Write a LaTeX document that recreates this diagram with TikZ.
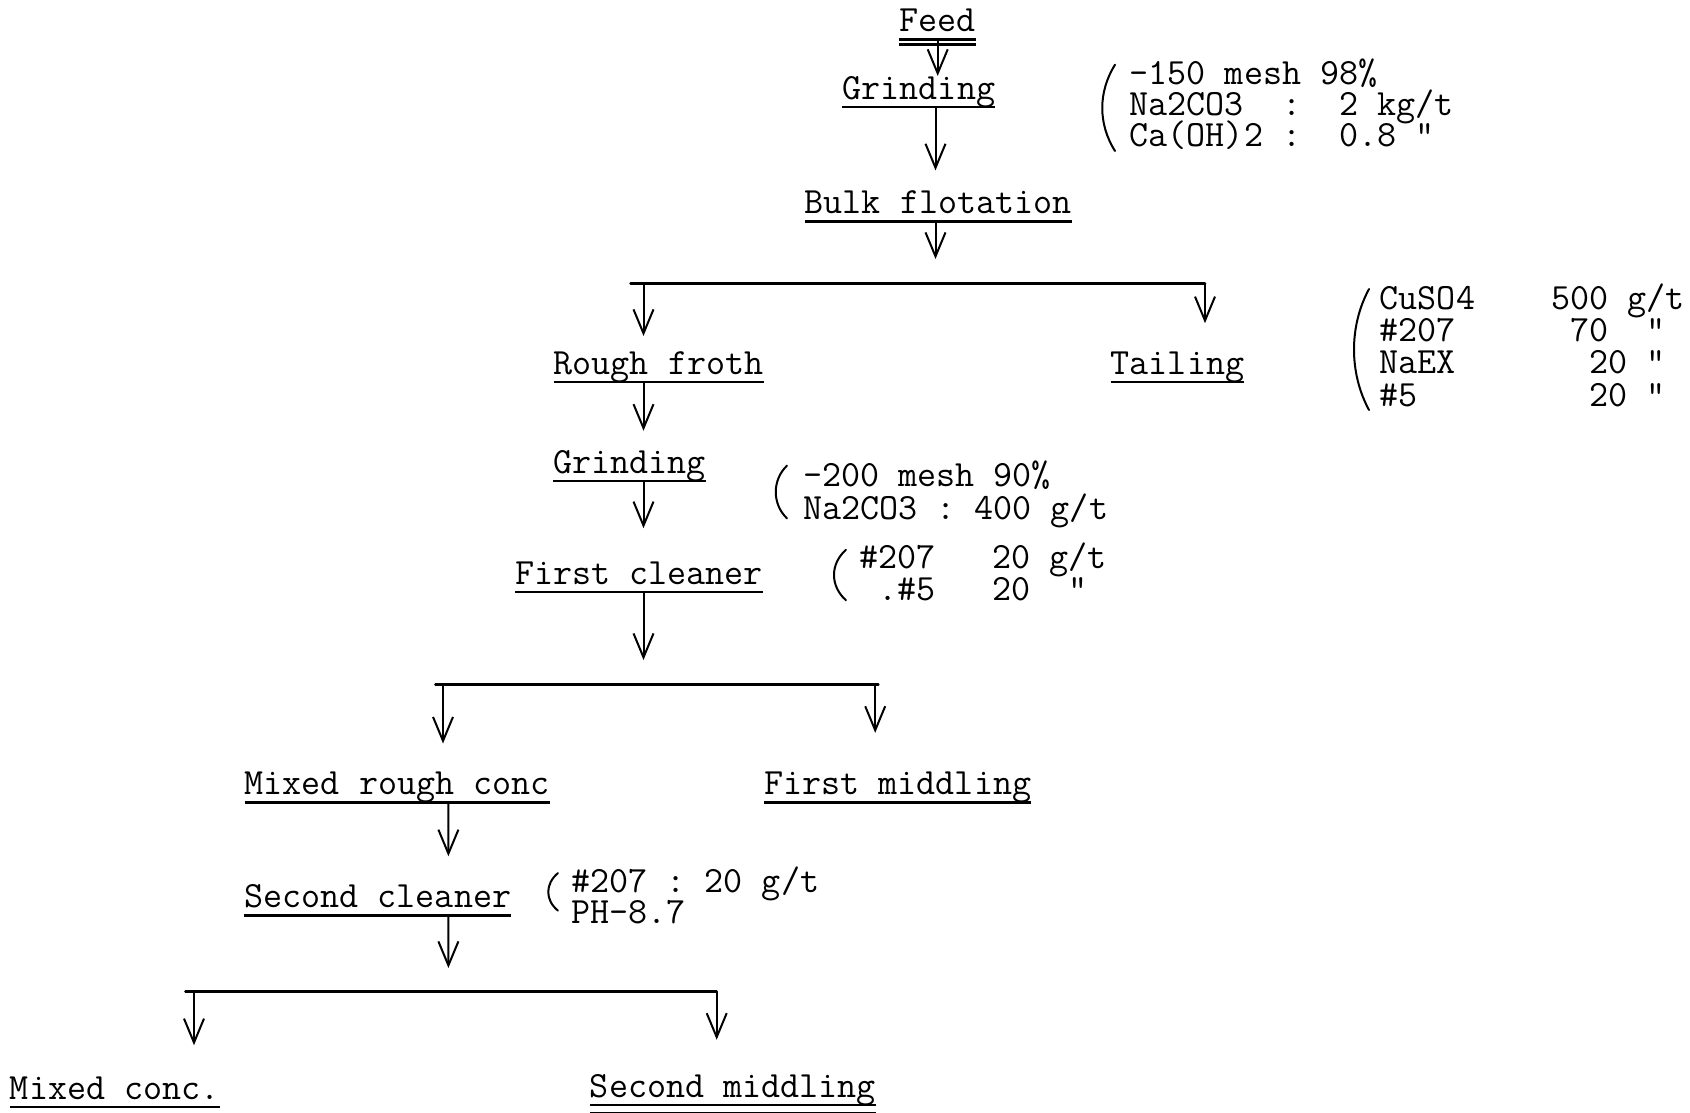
\documentclass[tikz,border=0pt]{standalone}
\usetikzlibrary{arrows.meta,calc}
\tikzset{
  lbl/.style={font=\fontsize{37}{40}\selectfont\ttfamily, inner sep=0pt, anchor=base},
  ann/.style={font=\fontsize{37}{40}\selectfont\ttfamily, inner sep=0pt, anchor=base west},
  arr/.style={line width=2pt, -{Straight Barb[length=24pt,width=20pt]}},
  flowline/.style={line width=2.5pt, line cap=round},
  uline/.style={line width=2.5pt},
  paren/.style={line width=2pt, line cap=round},
}
\newcommand\myannot[2]{\vtop{\baselineskip=#1\lineskiplimit=-1000pt\lineskip=0pt #2}}
\begin{document}
\begin{tikzpicture}[x=1pt,y=-1pt]
\useasboundingbox (0,0) rectangle (1690,1112);

% process labels
\node[lbl] (feed)   at (937.7,31.3)  {Feed};
\node[lbl] (grind1) at (918.9,99.2)  {Grinding};
\node[lbl] (bulk)   at (938.2,213.4) {Bulk flotation};
\node[lbl] (rough)  at (658.5,374)   {Rough froth};
\node[lbl] (tail)   at (1177.5,374)  {Tailing};
\node[lbl] (grind2) at (629.4,473)   {Grinding};
\node[lbl] (clean1) at (639.1,584)   {First cleaner};
\node[lbl] (mrc)    at (397.2,794.3) {Mixed rough conc};
\node[lbl] (mid1)   at (897.8,794.3) {First middling};
\node[lbl] (clean2) at (377.8,907.5) {Second cleaner};
\node[lbl] (mconc)  at (114.8,1099)  {Mixed conc.};
\node[lbl] (mid2)   at (732.9,1097)  {Second middling};

% underlines
\foreach \n in {feed,grind1,bulk,rough,tail,grind2,clean1,mrc,mid1,clean2,mconc,mid2}
  \draw[uline] ([yshift=-8pt]\n.base west) -- ([yshift=-8pt]\n.base east);
\draw[uline] ([yshift=-13pt]feed.base west) -- ([yshift=-13pt]feed.base east);
\draw[uline] ([yshift=-16pt]mconc.base west) -- ([yshift=-16pt,xshift=-80pt]mconc.base east);
\draw[uline] ([yshift=-16pt]mid2.base west) -- ([yshift=-16pt]mid2.base east);

% reagent annotations
\node[ann] (ann1) at (1129.5,84) {\myannot{31.3pt}{\hbox{-150~mesh~98\%}\hbox{Na2CO3~~:~~2~kg/t}\hbox{Ca(OH)2~:~~0.8~"}}};
\node[ann] (ann2) at (1379.6,309.3) {\myannot{32.3pt}{\hbox{CuSO4~~~~500~g/t}\hbox{\#207~~~~~~70~~"}\hbox{NaEX~~~~~~~20~"}\hbox{\#5~~~~~~~~~20~"}}};
\node[ann] (ann3) at (803,486) {\myannot{33.4pt}{\hbox{-200~mesh~90\%}\hbox{Na2CO3~:~400~g/t}}};
\node[ann] (ann4) at (859,568) {\myannot{32.3pt}{\hbox{\#207~~~20~g/t}\hbox{~.\#5~~~20~~"}}};
\node[ann] (ann5) at (571.2,892.4) {\myannot{31.3pt}{\hbox{\#207~:~20~g/t}\hbox{PH-8.7}}};

% brackets
\draw[paren] (1115,64.7) .. controls (1098,92) and (1098,124) .. (1115,151);
\draw[paren] (1369,289) .. controls (1349,326) and (1349,373) .. (1369,410);
\draw[paren] (787,465.6) .. controls (772,480) and (772,504) .. (787,518.4);
\draw[paren] (846,549.7) .. controls (830,564) and (830,586) .. (846,600.3);
\draw[paren] (558,873) .. controls (545,884) and (545,900) .. (558,910.7);

% main flow
\draw[arr] ($(feed.base)+(0,10)$) -- (feed.base |- grind1.north);
\draw[arr] ($(grind1.base)+(16.6,9)$) -- ($(bulk.north)+(-2.7,-20)$);
\coordinate (t1) at (935.5,259);
\draw[arr] ($(bulk.base)+(-2.7,9)$) -- (t1);

% split 1
\coordinate (s1l) at (630.5,283.5);
\coordinate (s1r) at (1205,283.5);
\coordinate (d1) at (643.5,283.5);
\draw[flowline] (s1l) -- (s1r);
\draw[arr] (s1r) -- ($(s1r |- tail.north)+(0,-28)$);
\draw[arr] (d1) -- ($(d1 |- rough.north)+(0,-15)$);

\draw[arr] ($(rough.base)+(-15,9)$) -- ($(grind2.north)+(14.1,-19)$);
\draw[arr] ($(grind2.base)+(14.1,8)$) -- ($(clean1.north)+(4.4,-33)$);
\coordinate (t2) at (643.5,660);
\draw[arr] ($(clean1.base)+(4.4,9)$) -- (t2);

% split 2
\coordinate (s2l) at (435.4,684.4);
\coordinate (s2r) at (878.4,684.4);
\coordinate (d2l) at (443,684.4);
\coordinate (d2r) at (875.2,684.4);
\draw[flowline] (s2l) -- (s2r);
\draw[arr] (d2l) -- ($(d2l |- mrc.north)+(0,-28)$);
\draw[arr] (d2r) -- ($(d2r |- mid1.north)+(0,-38.7)$);

\draw[arr] ($(mrc.base)+(51.2,9)$) -- ($(clean2.north)+(70.6,-28)$);
\coordinate (t3) at (448.4,968);
\draw[arr] ($(clean2.base)+(70.6,9)$) -- (t3);

% split 3
\coordinate (s3l) at (185.4,991.6);
\coordinate (s3r) at (716.7,991.6);
\coordinate (d3l) at (194,991.6);
\draw[flowline] (s3l) -- (s3r);
\draw[arr] (s3r) -- ($(s3r |- mid2.north)+(0,-34)$);
\draw[arr] (d3l) -- ($(d3l |- mconc.north)+(0,-31)$);
\end{tikzpicture}
\end{document}
